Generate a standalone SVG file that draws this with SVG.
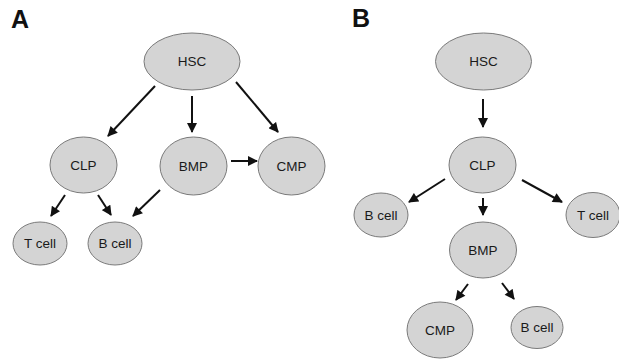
<svg xmlns="http://www.w3.org/2000/svg" width="619" height="359" viewBox="0 0 619 359">
<defs>
<style>
.n{fill:#d4d4d4;stroke:#7a7a7a;stroke-width:1}
.t{font-family:"Liberation Sans",Arial,sans-serif;font-size:13.5px;fill:#1a1a1a;text-anchor:middle;dominant-baseline:central}
.p{font-family:"Liberation Sans",Arial,sans-serif;font-size:25px;font-weight:bold;fill:#111}
.c line{stroke:#111;stroke-width:2;marker-end:url(#ah)}
</style>
<marker id="ah" viewBox="0 0 10 10" refX="9" refY="5" markerWidth="5.5" markerHeight="5" orient="auto" markerUnits="strokeWidth">
<path d="M0,0 L10,5 L0,10 z" fill="#111"/>
</marker>
</defs>
<rect width="619" height="359" fill="#fff"/>
<text class="p" x="11" y="28">A</text>
<text class="p" x="352" y="27">B</text>
<g class="c" id="connectors">
<line x1="155" y1="86" x2="108" y2="136"/>
<line x1="192" y1="96" x2="192" y2="132"/>
<line x1="236" y1="82" x2="278" y2="132"/>
<line x1="231" y1="161" x2="257" y2="161"/>
<line x1="65" y1="195" x2="51" y2="216"/>
<line x1="98" y1="195" x2="111" y2="215"/>
<line x1="160" y1="190" x2="133" y2="216"/>
<line x1="483" y1="99" x2="483" y2="127"/>
<line x1="445" y1="179" x2="409" y2="202"/>
<line x1="483" y1="198" x2="483" y2="215"/>
<line x1="522" y1="180" x2="562" y2="202"/>
<line x1="468" y1="284" x2="456" y2="300"/>
<line x1="502" y1="283" x2="514" y2="299"/>
</g>
<g id="a-hsc"><ellipse class="n" cx="192" cy="61.5" rx="48" ry="28.5"/><text class="t" x="192" y="61.5">HSC</text></g>
<g id="a-clp"><ellipse class="n" cx="83.5" cy="165" rx="33.5" ry="28"/><text class="t" x="83.5" y="165">CLP</text></g>
<g id="a-bmp"><ellipse class="n" cx="193.5" cy="166" rx="33.5" ry="29"/><text class="t" x="193.5" y="166">BMP</text></g>
<g id="a-cmp"><ellipse class="n" cx="291.5" cy="166" rx="33.5" ry="29"/><text class="t" x="291.5" y="166">CMP</text></g>
<g id="a-tcell"><ellipse class="n" cx="40" cy="243.5" rx="27" ry="21.5"/><text class="t" x="40" y="243.5">T cell</text></g>
<g id="a-bcell"><ellipse class="n" cx="115" cy="243.5" rx="27" ry="21.5"/><text class="t" x="115" y="243.5">B cell</text></g>
<g id="b-hsc"><ellipse class="n" cx="483.5" cy="61.5" rx="48" ry="28.5"/><text class="t" x="483.5" y="61.5">HSC</text></g>
<g id="b-clp"><ellipse class="n" cx="482.5" cy="165" rx="33.5" ry="28"/><text class="t" x="482.5" y="165">CLP</text></g>
<g id="b-bcell1"><ellipse class="n" cx="381" cy="215" rx="27" ry="22"/><text class="t" x="381" y="215">B cell</text></g>
<g id="b-tcell"><ellipse class="n" cx="593" cy="215" rx="27" ry="22.5"/><text class="t" x="593" y="215">T cell</text></g>
<g id="b-bmp"><ellipse class="n" cx="483" cy="250" rx="33.5" ry="28"/><text class="t" x="483" y="250">BMP</text></g>
<g id="b-cmp"><ellipse class="n" cx="440" cy="330" rx="33" ry="28"/><text class="t" x="440" y="330">CMP</text></g>
<g id="b-bcell2"><ellipse class="n" cx="537" cy="327.5" rx="26" ry="21"/><text class="t" x="537" y="327.5">B cell</text></g>
</svg>
